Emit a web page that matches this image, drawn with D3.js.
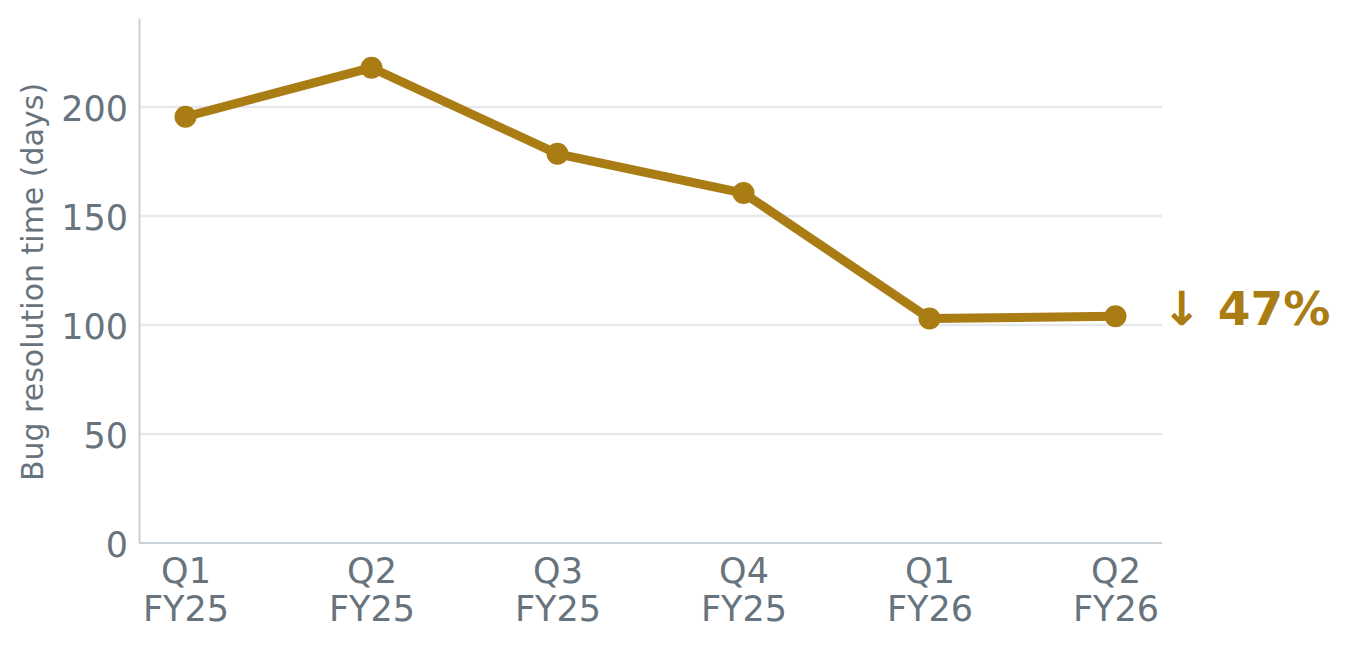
<!DOCTYPE html>
<html><head><meta charset="utf-8">
<script src="https://cdn.jsdelivr.net/npm/d3@7"></script>
<style>body{margin:0;background:#fff}svg{display:block}</style>
</head><body>
<svg id="c" width="1349" height="646"></svg>
<script>
const quarters = ["Q1", "Q2", "Q3", "Q4", "Q1", "Q2"];
const fiscalYears = ["FY25", "FY25", "FY25", "FY25", "FY26", "FY26"];
const resolutionDays = [195.5, 218, 178.5, 160.5, 103, 104];
const yTicks = [0, 50, 100, 150, 200];
const annotationText = "↓ 47%";
const yLabel = "Bug resolution time (days)";

const svg = d3.select("#c");
const m = {l: 139, r: 1162, t: 18, b: 543};
const keys = quarters.map((q, i) => q + " " + fiscalYears[i]);
const x = d3.scalePoint().domain(keys).range([m.l, m.r]).padding(0.25);
const y = d3.scaleLinear().domain([0, 240.8]).range([m.b, m.t]);
const font = "DejaVu Sans, sans-serif";
const tickColor = "#67737d";
const lineColor = "#a97c14";

// gridlines
svg.append("g").selectAll("line").data(yTicks.filter(d => d > 0)).join("line")
  .attr("x1", m.l).attr("x2", m.r).attr("y1", d => y(d)).attr("y2", d => y(d))
  .attr("stroke", "#e5e9eb").attr("stroke-width", 2.5);

// y axis
const ya = svg.append("g").attr("transform", `translate(${m.l},0)`)
  .call(d3.axisLeft(y).tickValues(yTicks).tickSize(0).tickPadding(11));
ya.select(".domain").attr("stroke", "#c9d1d9").attr("stroke-width", 2);
ya.selectAll("text").attr("font-family", font).attr("font-size", 35).attr("fill", tickColor).attr("dy", "0.38em");

// x axis
const xa = svg.append("g").attr("transform", `translate(0,${m.b})`)
  .call(d3.axisBottom(x).tickSize(0).tickFormat(""));
xa.select(".domain").attr("stroke", "#c9d1d9").attr("stroke-width", 2).attr("d", `M${m.l},0H${m.r}`);
xa.selectAll(".tick").each(function(d, i) {
  const t = d3.select(this).append("text").attr("font-family", font).attr("font-size", 35)
    .attr("fill", tickColor).attr("text-anchor", "middle");
  t.append("tspan").attr("x", 0).attr("y", 40).text(quarters[i]);
  t.append("tspan").attr("x", 0).attr("y", 78).text(fiscalYears[i]);
});

// y label
svg.append("text").attr("transform", `translate(43,${(81 + 483) / 2}) rotate(-90)`)
  .attr("text-anchor", "middle").attr("font-family", font).attr("font-size", 30)
  .attr("fill", tickColor).text(yLabel);

// line
svg.append("path").datum(resolutionDays)
  .attr("d", d3.line().x((d, i) => x(keys[i])).y(d => y(d)))
  .attr("fill", "none").attr("stroke", lineColor).attr("stroke-width", 9)
  .attr("stroke-linejoin", "round");
svg.append("g").selectAll("circle").data(resolutionDays).join("circle")
  .attr("cx", (d, i) => x(keys[i])).attr("cy", d => y(d)).attr("r", 11).attr("fill", lineColor);

// annotation
svg.append("text").attr("x", 1162).attr("y", y(resolutionDays[5]) + 9)
  .attr("font-family", font).attr("font-size", 47).attr("font-weight", "bold")
  .attr("fill", lineColor).text(annotationText);
</script>
</body></html>
